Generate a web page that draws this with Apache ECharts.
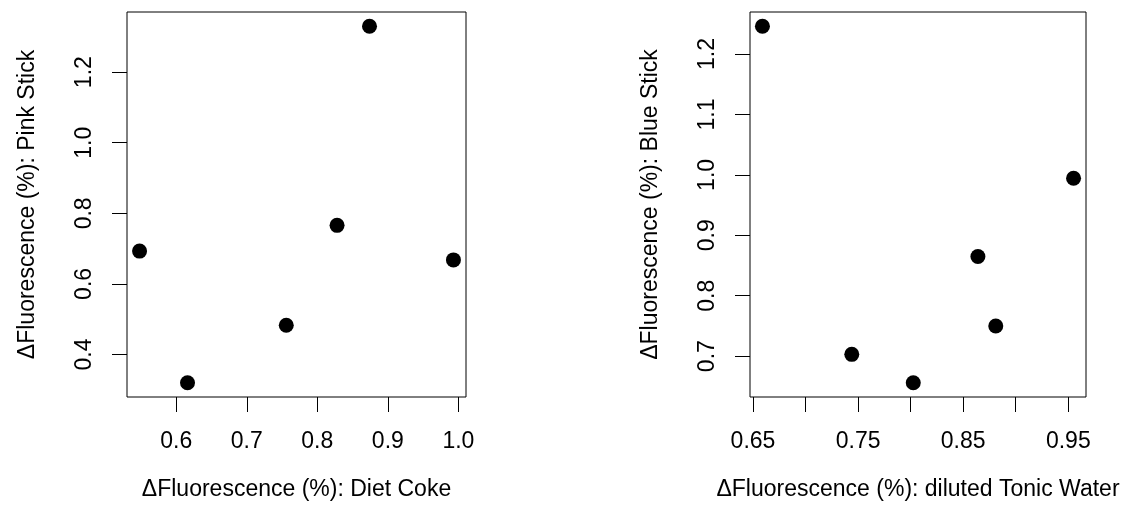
<!DOCTYPE html>
<html>
<head>
<meta charset="utf-8">
<script src="https://cdn.jsdelivr.net/npm/echarts@6/dist/echarts.min.js"></script>
<style>
  html, body { margin: 0; padding: 0; background: #fff; }
  #chart { width: 1125px; height: 506px; }
</style>
</head>
<body>
<div id="chart"></div>
<script>
// left panel: Diet Coke vs Pink Stick
const dietCoke = [0.548, 0.616, 0.756, 0.828, 0.874, 0.993];
const pinkStick = [0.693, 0.320, 0.483, 0.766, 1.330, 0.668];
// right panel: diluted Tonic Water vs Blue Stick
const tonicWater = [0.659, 0.744, 0.8025, 0.864, 0.881, 0.955];
const blueStick = [1.246, 0.703, 0.656, 0.865, 0.750, 0.9945];

const leftXTicks = [0.6, 0.7, 0.8, 0.9, 1.0];
const leftYTicks = [0.4, 0.6, 0.8, 1.0, 1.2];
const rightXTicks = [0.65, 0.70, 0.75, 0.80, 0.85, 0.90, 0.95];
const rightXLabels = [0.65, 0.75, 0.85, 0.95];
const rightYTicks = [0.7, 0.8, 0.9, 1.0, 1.1, 1.2];

const FONT = "Liberation Sans";
const FS = 23;

// R style axis range: data range padded by 4% on each side
function rRange(arr) {
  const lo = Math.min(...arr), hi = Math.max(...arr);
  const pad = (hi - lo) * 0.04;
  return [lo - pad, hi + pad];
}

function pairs(xs, ys) {
  return xs.map((x, i) => [x, ys[i]]);
}

function xAxisOpt(gridIndex, data, ticks, labels, digits, name) {
  const [min, max] = rRange(data);
  return {
    type: "value",
    gridIndex,
    min,
    max,
    splitLine: { show: false },
    axisLine: { show: false },
    axisTick: {
      show: true,
      length: 15,
      customValues: ticks,
      lineStyle: { color: "#000", width: 1 }
    },
    axisLabel: {
      customValues: labels,
      margin: 33,
      color: "#000",
      fontFamily: FONT,
      fontSize: FS,
      formatter: v => v.toFixed(digits)
    },
    name,
    nameLocation: "middle",
    nameGap: 81,
    nameTextStyle: { color: "#000", fontFamily: FONT, fontSize: FS }
  };
}

function yAxisOpt(gridIndex, data, ticks, name) {
  const [min, max] = rRange(data);
  return {
    type: "value",
    gridIndex,
    min,
    max,
    splitLine: { show: false },
    axisLine: { show: false },
    axisTick: {
      show: true,
      length: 15,
      customValues: ticks,
      lineStyle: { color: "#000", width: 1 }
    },
    axisLabel: {
      customValues: ticks,
      rotate: 90,
      margin: 31,
      color: "#000",
      fontFamily: FONT,
      fontSize: FS,
      formatter: v => v.toFixed(1)
    },
    name,
    nameLocation: "middle",
    nameGap: 88,
    nameTextStyle: { color: "#000", fontFamily: FONT, fontSize: FS }
  };
}

const chart = echarts.init(document.getElementById("chart"));
chart.setOption({
  animation: false,
  backgroundColor: "#fff",
  grid: [
    { left: 127, top: 12, width: 339, height: 385, show: true, borderColor: "#000", borderWidth: 1, backgroundColor: "transparent" },
    { left: 750, top: 12, width: 336, height: 385, show: true, borderColor: "#000", borderWidth: 1, backgroundColor: "transparent" }
  ],
  xAxis: [
    xAxisOpt(0, dietCoke, leftXTicks, leftXTicks, 1, "\u0394Fluorescence (%): Diet Coke"),
    xAxisOpt(1, tonicWater, rightXTicks, rightXLabels, 2, "\u0394Fluorescence (%): diluted Tonic Water")
  ],
  yAxis: [
    yAxisOpt(0, pinkStick, leftYTicks, "\u0394Fluorescence (%): Pink Stick"),
    yAxisOpt(1, blueStick, rightYTicks, "\u0394Fluorescence (%): Blue Stick")
  ],
  series: [
    {
      type: "scatter",
      xAxisIndex: 0,
      yAxisIndex: 0,
      data: pairs(dietCoke, pinkStick),
      symbolSize: 15,
      itemStyle: { color: "#000", opacity: 1 }
    },
    {
      type: "scatter",
      xAxisIndex: 1,
      yAxisIndex: 1,
      data: pairs(tonicWater, blueStick),
      symbolSize: 15,
      itemStyle: { color: "#000", opacity: 1 }
    }
  ]
});
</script>
</body>
</html>
